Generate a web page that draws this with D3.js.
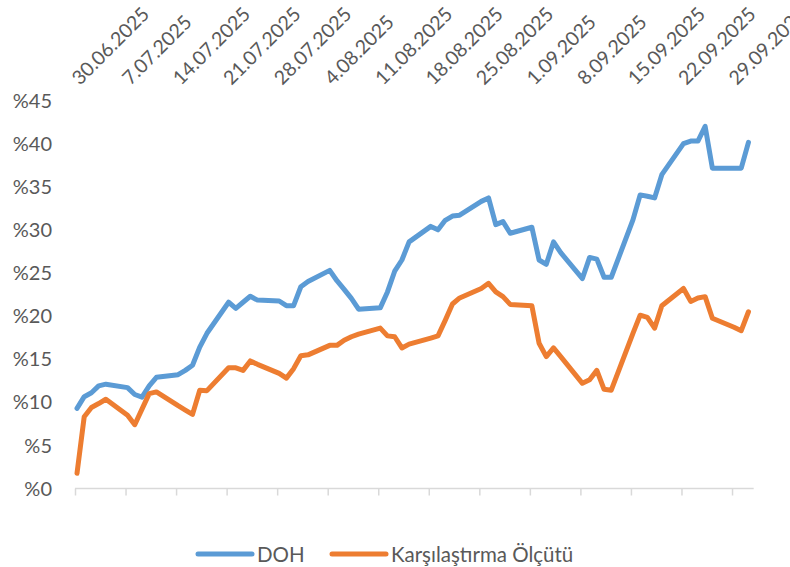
<!DOCTYPE html>
<html>
<head>
<meta charset="utf-8">
<script src="https://cdn.jsdelivr.net/npm/d3@7"></script>
<style>
  html, body { margin: 0; padding: 0; background: #fff; }
  svg { display: block; }
  text { font-family: Lato, "Open Sans", sans-serif; fill: #595959; }
</style>
</head>
<body>
<svg id="chart" width="790" height="567"></svg>
<script>
// ---- data ----
const dates = [
  "2025-06-30","2025-07-01","2025-07-02","2025-07-03","2025-07-04",
  "2025-07-07","2025-07-08","2025-07-09","2025-07-10","2025-07-11",
  "2025-07-14","2025-07-15","2025-07-16","2025-07-17","2025-07-18",
  "2025-07-21","2025-07-22","2025-07-23","2025-07-24","2025-07-25",
  "2025-07-28","2025-07-29","2025-07-30","2025-07-31","2025-08-01",
  "2025-08-04","2025-08-05","2025-08-06","2025-08-07","2025-08-08",
  "2025-08-11","2025-08-12","2025-08-13","2025-08-14","2025-08-15",
  "2025-08-18","2025-08-19","2025-08-20","2025-08-21","2025-08-22",
  "2025-08-25","2025-08-26","2025-08-27","2025-08-28","2025-08-29",
  "2025-09-01","2025-09-02","2025-09-03","2025-09-04","2025-09-05",
  "2025-09-08","2025-09-09","2025-09-10","2025-09-11","2025-09-12",
  "2025-09-15","2025-09-16","2025-09-17","2025-09-18","2025-09-19",
  "2025-09-22","2025-09-23","2025-09-24","2025-09-25","2025-09-26",
  "2025-09-29","2025-09-30","2025-10-01"
];
const doh = [
  9.3, 10.65, 11.1, 11.9, 12.1,
  11.7, 10.9, 10.6, 11.9, 12.9,
  13.2, 13.7, 14.3, 16.4, 18.0,
  21.6, 20.9, 21.6, 22.3, 21.85,
  21.75, 21.2, 21.2, 23.4, 24.0,
  25.3, 24.1, 23.1, 22.05, 20.8,
  20.95, 22.8, 25.2, 26.5, 28.6,
  30.4, 30.0, 31.1, 31.6, 31.7,
  33.3, 33.7, 30.6, 30.95, 29.6,
  30.3, 26.5, 26.0, 28.6, 27.35,
  24.35, 26.8, 26.6, 24.5, 24.5,
  31.15, 34.05, 33.9, 33.7, 36.4,
  40.0, 40.3, 40.3, 42.0, 37.15,
  37.15, 37.15, 40.15
];
const benchmark = [
  1.76, 8.33, 9.4, 9.85, 10.35,
  8.5, 7.4, 9.2, 11.0, 11.2,
  9.6, 9.1, 8.6, 11.4, 11.35,
  14.0, 14.0, 13.7, 14.8, 14.4,
  13.35, 12.8, 13.9, 15.4, 15.5,
  16.6, 16.6, 17.2, 17.6, 17.9,
  18.6, 17.7, 17.6, 16.3, 16.75,
  17.45, 17.7, 19.5, 21.4, 22.1,
  23.2, 23.8, 22.8, 22.25, 21.35,
  21.2, 16.85, 15.3, 16.3, 15.3,
  12.2, 12.6, 13.7, 11.5, 11.4,
  18.0, 20.1, 19.85, 18.6, 21.2,
  23.2, 21.7, 22.1, 22.25, 19.75,
  18.7, 18.3, 20.5
];
const seriesNames = ["DOH", "Karşılaştırma Ölçütü"];
const seriesColors = ["#5B9BD5", "#ED7D31"];
const yTicks = [0, 5, 10, 15, 20, 25, 30, 35, 40, 45];
const axisStart = "2025-06-30";
const axisEnd = "2025-10-02";

// ---- chart ----
const parse = d3.timeParse("%Y-%m-%d");
const fmt = d3.timeFormat("%-d.%m.%Y");
const svg = d3.select("#chart");

const x = d3.scaleTime()
  .domain([parse(axisStart), parse(axisEnd)])
  .range([77, 77 + 94 * 7.22]);
const y = d3.scaleLinear().domain([0, 45]).range([488.5, 100.5]);

// x axis line (bottom) with ticks
const tickDates = d3.timeMonday.range(parse(axisStart), parse("2025-09-30"));
svg.append("line")
  .attr("x1", x(parse(axisStart)) - 2).attr("x2", x(parse(axisEnd)) - 2)
  .attr("y1", y(0)).attr("y2", y(0))
  .attr("stroke", "#D9D9D9").attr("stroke-width", 1.5);
svg.selectAll(".xtick").data(tickDates).enter().append("line")
  .attr("x1", d => x(d) - 1.5).attr("x2", d => x(d) - 1.5)
  .attr("y1", y(0)).attr("y2", y(0) + 7)
  .attr("stroke", "#D9D9D9").attr("stroke-width", 1.5);

// tick labels at top, rotated
svg.selectAll(".xlab").data(tickDates).enter().append("text")
  .attr("transform", d => `translate(${x(d) + 3},86) rotate(-45)`)
  .attr("text-anchor", "start")
  .style("font-size", "19.5px")
  .text(d => fmt(d));

// y labels
svg.selectAll(".ylab").data(yTicks).enter().append("text")
  .attr("x", 52).attr("y", d => y(d))
  .attr("dy", "0.36em")
  .attr("text-anchor", "end")
  .style("font-size", "20px")
  .text(d => "%" + d);

// lines
const parsed = dates.map(parse);
const line = d3.line().x(d => x(d[0])).y(d => y(d[1]));
[doh, benchmark].forEach((vals, i) => {
  svg.append("path")
    .datum(parsed.map((d, j) => [d, vals[j]]))
    .attr("d", line)
    .attr("fill", "none")
    .attr("stroke", seriesColors[i])
    .attr("stroke-width", 5)
    .attr("stroke-linejoin", "round")
    .attr("stroke-linecap", "round");
});

// legend
const legendX = [198, 332];
seriesNames.forEach((name, i) => {
  svg.append("line")
    .attr("x1", legendX[i]).attr("x2", legendX[i] + 54)
    .attr("y1", 554).attr("y2", 554)
    .attr("stroke", seriesColors[i]).attr("stroke-width", 5)
    .attr("stroke-linecap", "round");
  svg.append("text")
    .attr("x", legendX[i] + 59).attr("y", 562)
    .style("font-size", "20.5px")
    .text(name);
});
</script>
</body>
</html>
